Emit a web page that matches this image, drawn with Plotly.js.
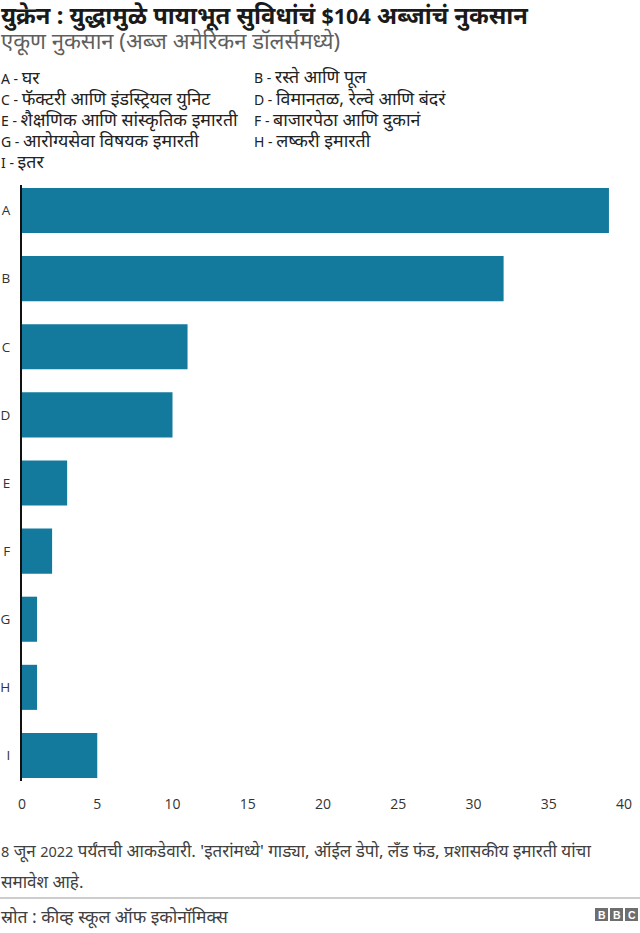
<!DOCTYPE html>
<html><head><meta charset="utf-8">
<script src="https://cdn.plot.ly/plotly-3.0.1.min.js"></script>
<style>html,body{margin:0;padding:0;background:#fff}</style></head>
<body><div id="chart" style="width:640px;height:933px"></div>
<script>
const categories=['A','B','C','D','E','F','G','H','I'];
const values=[39,32,11,10,3,2,1,1,5];
const xTicks=[0,5,10,15,20,25,30,35,40];
const titleText='युक्रेन : युद्धामुळे पायाभूत सुविधांचं $104 अब्जांचं नुकसान';
const subtitleText='एकूण नुकसान (अब्ज अमेरिकन डॉलर्समध्ये)';
const legendLeft=['A - घर','C - फॅक्टरी आणि इंडस्ट्रियल युनिट','E - शैक्षणिक आणि सांस्कृतिक इमारती','G - आरोग्यसेवा विषयक इमारती','I - इतर'];
const legendRight=['B - रस्ते आणि पूल','D - विमानतळ, रेल्वे आणि बंदरं','F - बाजारपेठा आणि दुकानं','H - लष्करी इमारती'];
const noteLines=["8 जून 2022 पर्यंतची आकडेवारी. 'इतरांमध्ये' गाड्या, ऑईल डेपो, लँड फंड, प्रशासकीय इमारती यांचा",'समावेश आहे.'];
const sourceText='स्रोत : कीव्ह स्कूल ऑफ इकोनॉमिक्स';
const bbcLetters=['B','B','C'];

const W=640,H=933,L=22,R=624,T=185,B=781;
const FONT='"Noto Sans","Noto Sans Devanagari","Lohit Devanagari","Open Sans",sans-serif';
const px=x=>(x-L)/(R-L), py=y=>(B-y)/(B-T);
function mixed(text,latinSize){
  return text.replace(/[A-Za-z0-9$]+( - )?/g,m=>'<span style="font-size:'+latinSize+'px">'+m+'</span>');
}
function label(x,y,text,size,color,weight,latinSize){
  const s=latinSize?mixed(text,latinSize):text;
  return {xref:'paper',yref:'paper',x:px(x),y:py(y),text:weight?'<b>'+s+'</b>':s,showarrow:false,
    xanchor:'left',yanchor:'middle',align:'left',borderpad:0,
    font:{family:FONT,size:size,color:color}};
}
const annotations=[
  label(0,15,titleText,23.8,'#1a1a1a',true,21.5),
  label(0,41,subtitleText,22,'#5f5f5f'),
];
legendLeft.forEach((t,i)=>annotations.push(label(0,77+i*21,t,17.8,'#222',false,14)));
legendRight.forEach((t,i)=>annotations.push(label(253,77+i*21,t,17.8,'#222',false,14)));
noteLines.forEach((t,i)=>annotations.push(label(0,851+i*30,t,17,'#404040',false,14.5)));
annotations.push(label(0,917,sourceText,17.5,'#404040'));
const shapes=[{type:'line',xref:'paper',yref:'paper',x0:px(0),x1:px(640),y0:py(898),y1:py(898),line:{color:'#9a9a9a',width:1}}];
bbcLetters.forEach((c,i)=>{
  const x0=595+i*15;
  shapes.push({type:'rect',xref:'paper',yref:'paper',x0:px(x0),x1:px(x0+13),y0:py(908),y1:py(921),fillcolor:'#6e6e6e',line:{width:0}});
  annotations.push({xref:'paper',yref:'paper',x:px(x0+6.5),y:py(914.5),text:'<b>'+c+'</b>',showarrow:false,xanchor:'center',yanchor:'middle',borderpad:0,font:{family:'"Liberation Sans",sans-serif',size:10.5,color:'#fff'}});
});
Plotly.newPlot('chart',[{type:'bar',orientation:'h',x:values,y:categories,marker:{color:'#137a9e'},hoverinfo:'x+y'}],{
  width:W,height:H,paper_bgcolor:'#fff',plot_bgcolor:'#fff',showlegend:false,bargap:0.338,
  margin:{l:L,r:W-R,t:T,b:H-B,pad:0},
  font:{family:'"Open Sans",sans-serif',size:13.5,color:'#333'},
  xaxis:{range:[0,40],tickvals:xTicks,ticks:'outside',ticklen:10,tickcolor:'rgba(0,0,0,0)',showgrid:false,zeroline:false,showline:false,tickfont:{size:14,color:'#333',family:'"Open Sans",sans-serif'}},
  yaxis:{type:'category',categoryorder:'array',categoryarray:categories,range:[8.375,-0.375],ticks:'outside',ticklen:7,tickcolor:'rgba(0,0,0,0)',showgrid:false,zeroline:false,showline:true,linecolor:'#111',linewidth:2,tickfont:{size:13.5,color:'#333',family:'"Open Sans",sans-serif'}},
  annotations,shapes
},{displayModeBar:false,responsive:false});
</script></body></html>
